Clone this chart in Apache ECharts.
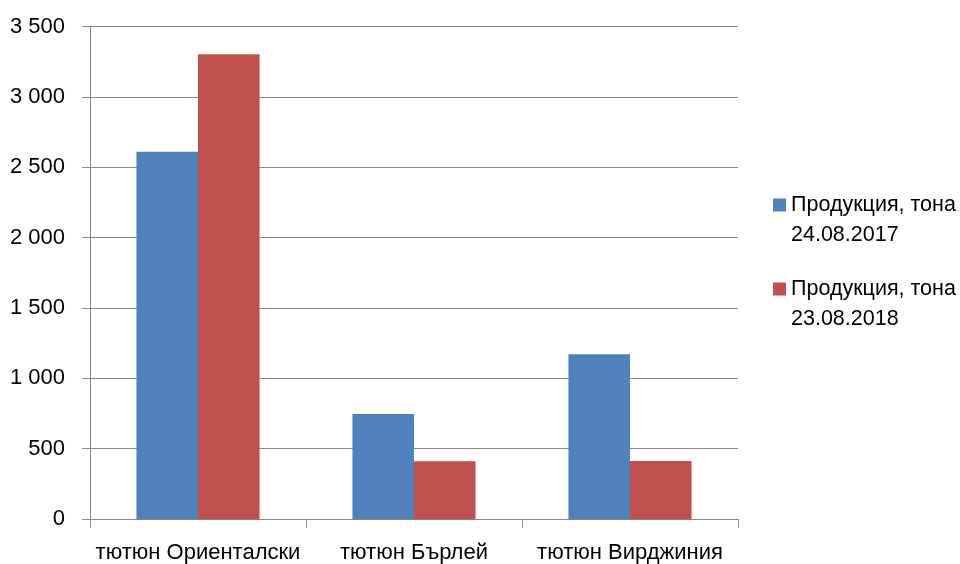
<!DOCTYPE html>
<html>
<head>
<meta charset="utf-8">
<script src="https://cdn.jsdelivr.net/npm/echarts@6/dist/echarts.min.js"></script>
<style>
html,body{margin:0;padding:0;background:#fff;}
#c{width:960px;height:564px;}
</style>
</head>
<body>
<div id="c"></div>
<script>
const categories = ['тютюн Ориенталски', 'тютюн Бърлей', 'тютюн Вирджиния'];
const seriesNames = ['Продукция, тона\n24.08.2017', 'Продукция, тона\n23.08.2018'];
const values2017 = [2611, 746, 1171];
const values2018 = [3304, 410, 412];
const yTicks = { min: 0, max: 3500, interval: 500 };

const FONT = '"Liberation Sans", Arial, sans-serif';
const colors = ['#4F81BD', '#C0504D'];
const legendIcon = 'path://M0,0h13v13h-13Z M0,42.99h0.01v0.01h-0.01Z';

const chart = echarts.init(document.getElementById('c'), null, { renderer: 'canvas' });
chart.setOption({
  animation: false,
  backgroundColor: '#ffffff',
  color: colors,
  grid: { left: 90, right: 222, top: 26.7, bottom: 44.7, containLabel: false },
  legend: {
    orient: 'vertical',
    left: 768,
    top: 185,
    itemWidth: 13,
    itemHeight: 43,
    itemGap: 24,
    icon: legendIcon,
    textStyle: { fontFamily: FONT, fontSize: 21.5, color: '#000', lineHeight: 30 },
    data: seriesNames
  },
  xAxis: {
    type: 'category',
    data: categories,
    boundaryGap: true,
    axisLine: { show: true, lineStyle: { color: '#868686', width: 1 } },
    axisTick: { show: true, length: 8, lineStyle: { color: '#868686' } },
    axisLabel: { fontFamily: FONT, fontSize: 22, color: '#000', margin: 23, interval: 0 }
  },
  yAxis: {
    type: 'value',
    min: yTicks.min,
    max: yTicks.max,
    interval: yTicks.interval,
    axisLine: { show: true, lineStyle: { color: '#868686', width: 1 } },
    axisTick: { show: true, length: 8, lineStyle: { color: '#868686' } },
    splitLine: { show: true, lineStyle: { color: '#868686', width: 1 } },
    axisLabel: {
      fontFamily: FONT, fontSize: 22, color: '#000', margin: 25,
      formatter: v => String(v).replace(/\B(?=(\d{3})+(?!\d))/g, ' ')
    }
  },
  series: [
    { name: seriesNames[0], type: 'bar', data: values2017, barGap: '0%', barCategoryGap: '43%' },
    { name: seriesNames[1], type: 'bar', data: values2018, barGap: '0%', barCategoryGap: '43%' }
  ]
});
</script>
</body>
</html>
